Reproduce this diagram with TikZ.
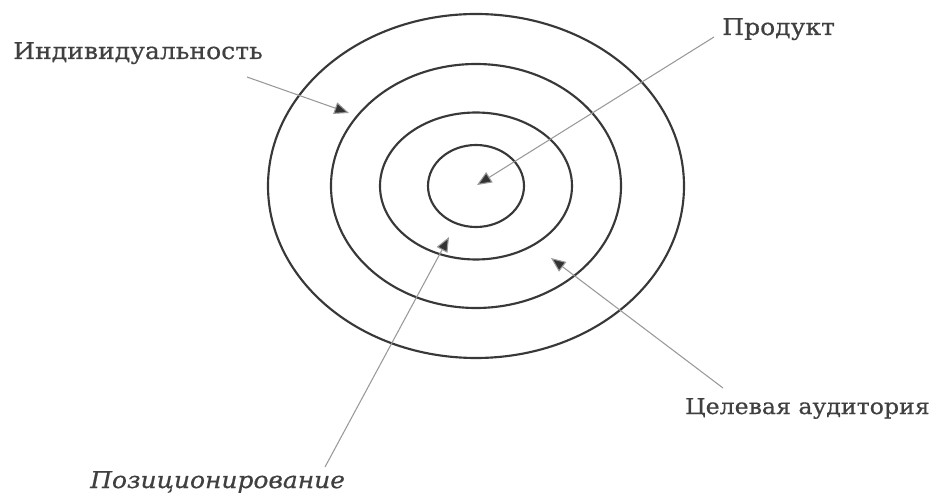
\documentclass[tikz,border=0pt]{standalone}
\usepackage{fontspec}
\setmainfont{DejaVu Serif}[FakeStretch=1.08,FakeBold=0.6]
\usepackage{tikz}
\usetikzlibrary{arrows.meta}

\tikzset{
  ring/.style={draw=black!78, line width=1.6pt},
  pointer/.style={draw=black!40, line width=0.8pt, -{Triangle[length=11pt,width=9pt,fill=black!80]}},
  lbl/.style={inner sep=0pt, anchor=base west, text=black!75, font=\fontsize{17.4}{20}\selectfont}
}

\begin{document}
\begin{tikzpicture}[x=0.75pt,y=-0.75pt]
    \useasboundingbox (0,0) rectangle (932,495);
    % rings
    \foreach \rx/\ry in {208/172,145/122,96/73.5,48/41} {
        \draw[ring] (476,186) ellipse [x radius=\rx, y radius=\ry];
      }
    % labels
    \node[lbl] (indiv) at (13,59) {Индивидуальность};
    \node[lbl] (prod) at (722,35) {Продукт};
    \node[lbl, font=\fontsize{17.3}{20}\selectfont\itshape] (pos) at (90,488) {Позиционирование};
    \node[lbl, anchor=base east, font=\fontsize{16.4}{20}\selectfont] (aud) at (930,414) {Целевая аудитория};
    % arrow ends
    \coordinate (indivtip) at (349,113);
    \coordinate (prodtip) at (477,185);
    \coordinate (postip) at (449,237);
    \coordinate (audtip) at (551,258);
    \coordinate (indivfoot) at (247,77);
    \coordinate (prodfoot) at (714,37);
    \coordinate (posfoot) at (325,467);
    \coordinate (audfoot) at (723,388);
    \foreach \n in {indiv,prod,pos,aud} {
        \draw[pointer] (\n foot) -- (\n tip);
      }
  \end{tikzpicture}
\end{document}
